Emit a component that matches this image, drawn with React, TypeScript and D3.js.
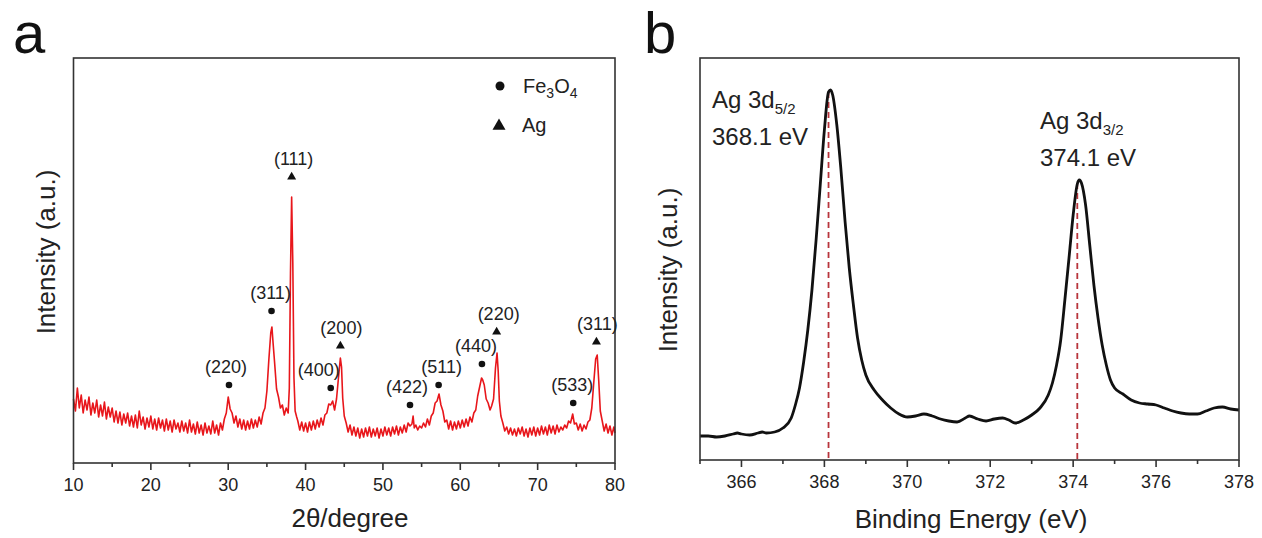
import React from "react";
import * as d3 from "d3";

// ---------- Panel a: XRD pattern ----------
const xrdPoints: [number, number][] = [
  [10.0, 64], [10.25, 52], [10.5, 75], [10.75, 55], [11.0, 68], [11.25, 50], [11.5, 63], [11.75, 53],
  [12.0, 66], [12.25, 48], [12.5, 60], [12.75, 50], [13.0, 63], [13.25, 46], [13.5, 58], [13.75, 47],
  [14.0, 61], [14.25, 44], [14.5, 56], [14.75, 46], [15.0, 55], [15.25, 41], [15.5, 52], [15.75, 40],
  [16.0, 51], [16.25, 38], [16.5, 49], [16.75, 40], [17.0, 50], [17.25, 37], [17.5, 47], [17.75, 36],
  [18.0, 48], [18.25, 35], [18.5, 52], [18.75, 38], [19.0, 46], [19.25, 34], [19.5, 45], [19.75, 36],
  [20.0, 47], [20.25, 34], [20.5, 44], [20.75, 33], [21.0, 45], [21.25, 35], [21.5, 43], [21.75, 32],
  [22.0, 44], [22.25, 33], [22.5, 42], [22.75, 31], [23.0, 43], [23.25, 34], [23.5, 40], [23.75, 31],
  [24.0, 42], [24.25, 32], [24.5, 40], [24.75, 30], [25.0, 43], [25.25, 31], [25.5, 39], [25.75, 29],
  [26.0, 41], [26.25, 30], [26.5, 38], [26.75, 28], [27.0, 40], [27.25, 30], [27.5, 37], [27.75, 29],
  [28.0, 42], [28.25, 30], [28.5, 38], [28.75, 28], [29.0, 40], [29.25, 33], [29.5, 44], [29.75, 50],
  [30.0, 66], [30.25, 54], [30.5, 50], [30.75, 40], [31.0, 47], [31.25, 36], [31.5, 44], [31.75, 34],
  [32.0, 43], [32.25, 33], [32.5, 42], [32.75, 34], [33.0, 44], [33.25, 35], [33.5, 43], [33.75, 36],
  [34.0, 46], [34.25, 39], [34.5, 50], [34.75, 55], [35.0, 72], [35.25, 103], [35.5, 130], [35.65, 136],
  [35.8, 120], [36.0, 100], [36.25, 74], [36.5, 66], [36.75, 55], [37.0, 58], [37.25, 48], [37.5, 55],
  [37.75, 50], [37.9, 75], [38.05, 190], [38.2, 266], [38.35, 200], [38.5, 85], [38.65, 52], [38.85, 46],
  [39.0, 42], [39.25, 33], [39.5, 41], [39.75, 32], [40.0, 40], [40.25, 31], [40.5, 41], [40.75, 33],
  [41.0, 42], [41.25, 34], [41.5, 43], [41.75, 36], [42.0, 45], [42.25, 38], [42.5, 48], [42.75, 50],
  [43.0, 59], [43.25, 58], [43.5, 62], [43.75, 53], [44.0, 64], [44.25, 85], [44.5, 105], [44.65, 96],
  [44.8, 65], [45.0, 47], [45.25, 40], [45.5, 31], [45.75, 38], [46.0, 28], [46.25, 36], [46.5, 27],
  [46.75, 35], [47.0, 25], [47.25, 34], [47.5, 26], [47.75, 35], [48.0, 27], [48.25, 36], [48.5, 26],
  [48.75, 34], [49.0, 27], [49.25, 35], [49.5, 25], [49.75, 34], [50.0, 27], [50.25, 36], [50.5, 28],
  [50.75, 35], [51.0, 27], [51.25, 36], [51.5, 29], [51.75, 37], [52.0, 28], [52.25, 36], [52.5, 30],
  [52.75, 38], [53.0, 31], [53.25, 40], [53.5, 37], [53.75, 39], [53.9, 47], [54.05, 35], [54.25, 38],
  [54.5, 33], [54.75, 37], [55.0, 35], [55.25, 40], [55.5, 36], [55.75, 44], [56.0, 38], [56.25, 47],
  [56.5, 50], [56.75, 60], [57.0, 62], [57.25, 69], [57.5, 58], [57.75, 52], [58.0, 41], [58.25, 43],
  [58.5, 34], [58.75, 42], [59.0, 33], [59.25, 41], [59.5, 34], [59.75, 42], [60.0, 35], [60.25, 43],
  [60.5, 36], [60.75, 44], [61.0, 37], [61.25, 46], [61.5, 41], [61.75, 50], [62.0, 53], [62.25, 67],
  [62.5, 76], [62.75, 85], [62.9, 83], [63.1, 78], [63.35, 64], [63.6, 60], [63.85, 53], [64.05, 57],
  [64.3, 64], [64.55, 95], [64.75, 110], [64.9, 92], [65.05, 62], [65.25, 47], [65.5, 40], [65.75, 32],
  [66.0, 36], [66.25, 29], [66.5, 35], [66.75, 28], [67.0, 34], [67.25, 27], [67.5, 35], [67.75, 29],
  [68.0, 36], [68.25, 27], [68.5, 34], [68.75, 26], [69.0, 35], [69.25, 28], [69.5, 36], [69.75, 27],
  [70.0, 35], [70.25, 28], [70.5, 37], [70.75, 29], [71.0, 36], [71.25, 28], [71.5, 38], [71.75, 30],
  [72.0, 37], [72.25, 29], [72.5, 38], [72.75, 31], [73.0, 36], [73.25, 33], [73.5, 38], [73.75, 35],
  [74.0, 42], [74.25, 40], [74.53, 49], [74.75, 39], [75.0, 40], [75.25, 33], [75.5, 39], [75.75, 32],
  [76.0, 38], [76.25, 34], [76.5, 41], [76.75, 43], [77.0, 55], [77.25, 80], [77.5, 104], [77.7, 108],
  [77.9, 82], [78.1, 52], [78.35, 42], [78.6, 32], [78.85, 39], [79.1, 30], [79.35, 37], [79.6, 28],
  [79.85, 36], [80.0, 30],
];

const xrdMajorTicks = [10, 20, 30, 40, 50, 60, 70, 80];
const xrdMinorTicks = [15, 25, 35, 45, 55, 65, 75];

// peak annotations
const peakTheta = [30.1, 35.6, 38.2, 43.25, 44.5, 53.5, 57.2, 62.8, 64.7, 74.6, 77.6];
const peakMarkerHeight = [78, 152, 286, 75, 117, 58, 78, 99, 131, 60, 121];
const peakLabel = ["(220)", "(311)", "(111)", "(400)", "(200)", "(422)", "(511)", "(440)", "(220)", "(533)", "(311)"];
const peakPhase = ["Fe3O4", "Fe3O4", "Ag", "Fe3O4", "Ag", "Fe3O4", "Fe3O4", "Fe3O4", "Ag", "Fe3O4", "Ag"];
const peakLabelDx = [-3, -1, 2, -12, 1, -3, 3, -6, 2, -1, 1];

// ---------- Panel b: XPS Ag 3d ----------
const xpsPoints: [number, number][] = [
  [365.0, 24], [365.2, 24], [365.4, 23], [365.6, 24], [365.8, 26], [365.9, 27], [366.0, 26], [366.2, 25],
  [366.4, 27], [366.5, 28], [366.6, 27], [366.8, 28], [367.0, 32], [367.2, 42], [367.3, 55], [367.4, 72],
  [367.5, 98], [367.6, 130], [367.7, 170], [367.8, 220], [367.9, 275], [368.0, 330], [368.1, 368],
  [368.15, 370], [368.2, 365], [368.3, 335], [368.4, 290], [368.5, 238], [368.6, 192], [368.7, 155],
  [368.8, 122], [368.9, 100], [369.0, 85], [369.2, 70], [369.4, 60], [369.6, 52], [369.8, 46],
  [370.0, 43], [370.2, 44], [370.4, 46], [370.6, 44], [370.8, 41], [371.0, 39], [371.2, 38], [371.4, 42],
  [371.5, 44], [371.7, 41], [371.9, 39], [372.1, 41], [372.3, 42], [372.45, 40], [372.6, 37], [372.8, 40],
  [373.0, 45], [373.2, 52], [373.4, 65], [373.5, 77], [373.6, 95], [373.7, 120], [373.8, 160], [373.9, 202],
  [374.0, 245], [374.1, 276], [374.15, 280], [374.2, 277], [374.3, 255], [374.4, 215], [374.5, 175],
  [374.6, 142], [374.7, 115], [374.8, 95], [374.9, 80], [375.0, 72], [375.2, 66], [375.4, 60], [375.6, 57],
  [375.8, 56], [376.0, 55], [376.2, 52], [376.4, 49], [376.6, 47], [376.8, 46], [377.0, 46], [377.2, 49],
  [377.4, 52], [377.6, 53], [377.8, 51], [378.0, 50],
];

const xpsMajorTicks = [366, 368, 370, 372, 374, 376, 378];
const xpsMinorTicks = [365, 367, 369, 371, 373, 375, 377];
const xpsPeakE = [368.1, 374.1];
const xpsPeakHeight = [368, 277];
const xpsPeakName = ["5/2", "3/2"];
const xpsPeakText = ["368.1 eV", "374.1 eV"];

const FONT = "'Liberation Sans', Arial, Helvetica, sans-serif";
const AXIS = "#333";

function Triangle({ x, y, size, fill }: { x: number; y: number; size: number; fill: string }) {
  const path = d3.symbol(d3.symbolTriangle, (Math.sqrt(3) / 4) * size * size)() as string;
  return <path d={path} transform={`translate(${x},${y})`} fill={fill} />;
}

export default function App() {
  // Panel a geometry
  const aL = 73.5, aR = 615, aT = 58, aB = 463;
  const xA = d3.scaleLinear().domain([10, 80]).range([aL, aR]);
  const yA = d3.scaleLinear().domain([0, 405]).range([aB, aT]);
  const lineA = d3.line<[number, number]>().x((d) => xA(d[0])).y((d) => yA(d[1]));

  // Panel b geometry
  const bL = 700, bR = 1239, bT = 58, bB = 460;
  const xB = d3.scaleLinear().domain([365, 378]).range([bL, bR]);
  const yB = d3.scaleLinear().domain([0, 402]).range([bB, bT]);
  const lineB = d3
    .line<[number, number]>()
    .x((d) => xB(d[0]))
    .y((d) => yB(d[1]))
    .curve(d3.curveMonotoneX);

  const xpsLabelPos = [
    { x: 712, y1: 108, y2: 145 },
    { x: 1040, y1: 129, y2: 166 },
  ];

  return (
    <svg
      width={1262}
      height={538}
      style={{ position: "absolute", left: 0, top: 0, background: "#fff" }}
      fontFamily={FONT}
    >
      <rect x={0} y={0} width={1262} height={538} fill="#fff" />

      {/* ---------------- Panel a ---------------- */}
      <text x={13} y={53} fontSize={58} fill="#111">a</text>
      <path d={lineA(xrdPoints) as string} fill="none" stroke="#e8161b" strokeWidth={1.6} strokeLinejoin="round" />
      <rect x={aL} y={aT} width={aR - aL} height={aB - aT} fill="none" stroke={AXIS} strokeWidth={1.6} />
      {xrdMajorTicks.map((t) => (
        <g key={`am${t}`}>
          <line x1={xA(t)} x2={xA(t)} y1={aB} y2={aB + 7} stroke={AXIS} strokeWidth={1.6} />
          <text x={xA(t)} y={aB + 28} fontSize={18} textAnchor="middle" fill="#222">{t}</text>
        </g>
      ))}
      {xrdMinorTicks.map((t) => (
        <line key={`an${t}`} x1={xA(t)} x2={xA(t)} y1={aB} y2={aB + 4} stroke={AXIS} strokeWidth={1.6} />
      ))}
      <text x={350} y={527} fontSize={26} textAnchor="middle" fill="#222">2θ/degree</text>
      <text
        transform={`translate(46,252) rotate(-90)`}
        fontSize={26}
        textAnchor="middle"
        dominantBaseline="central"
        fill="#222"
      >
        Intensity (a.u.)
      </text>

      {peakTheta.map((t, i) => {
        const px = xA(t);
        const py = yA(peakMarkerHeight[i]);
        return (
          <g key={`pk${i}`}>
            {peakPhase[i] === "Ag" ? (
              <Triangle x={px} y={py} size={9} fill="#111" />
            ) : (
              <circle cx={px} cy={py} r={3.3} fill="#111" />
            )}
            <text x={px + peakLabelDx[i]} y={py - 12} fontSize={18} textAnchor="middle" fill="#222">
              {peakLabel[i]}
            </text>
          </g>
        );
      })}

      {/* legend */}
      <circle cx={500} cy={86} r={4.5} fill="#111" />
      <text x={523} y={93} fontSize={20} fill="#222">
        Fe<tspan fontSize={14} dy={5}>3</tspan>
        <tspan dy={-5}>O</tspan>
        <tspan fontSize={14} dy={5}>4</tspan>
      </text>
      <Triangle x={499} y={126} size={13} fill="#111" />
      <text x={522} y={132} fontSize={20} fill="#222">Ag</text>

      {/* ---------------- Panel b ---------------- */}
      <text x={644} y={53} fontSize={58} fill="#111">b</text>
      {xpsPeakE.map((e, i) => (
        <line
          key={`dl${i}`}
          x1={xB(e)}
          x2={xB(e)}
          y1={yB(xpsPeakHeight[i])}
          y2={bB}
          stroke="#b8353c"
          strokeWidth={1.8}
          strokeDasharray="6,4"
        />
      ))}
      <path d={lineB(xpsPoints) as string} fill="none" stroke="#111" strokeWidth={2.8} strokeLinejoin="round" />
      <rect x={bL} y={bT} width={bR - bL} height={bB - bT} fill="none" stroke={AXIS} strokeWidth={1.6} />
      {xpsMajorTicks.map((t) => (
        <g key={`bm${t}`}>
          <line x1={xB(t)} x2={xB(t)} y1={bB} y2={bB + 7} stroke={AXIS} strokeWidth={1.6} />
          <text x={xB(t)} y={bB + 28} fontSize={18} textAnchor="middle" fill="#222">{t}</text>
        </g>
      ))}
      {xpsMinorTicks.map((t) => (
        <line key={`bn${t}`} x1={xB(t)} x2={xB(t)} y1={bB} y2={bB + 4} stroke={AXIS} strokeWidth={1.6} />
      ))}
      <text x={971} y={528} fontSize={26} textAnchor="middle" fill="#222">Binding Energy (eV)</text>
      <text
        transform={`translate(668,270) rotate(-90)`}
        fontSize={26}
        textAnchor="middle"
        dominantBaseline="central"
        fill="#222"
      >
        Intensity (a.u.)
      </text>

      {xpsPeakE.map((e, i) => (
        <g key={`pl${i}`}>
          <text x={xpsLabelPos[i].x} y={xpsLabelPos[i].y1} fontSize={24} fill="#222">
            Ag 3d<tspan fontSize={15} dy={6}>{xpsPeakName[i]}</tspan>
          </text>
          <text x={xpsLabelPos[i].x} y={xpsLabelPos[i].y2} fontSize={24} fill="#222">
            {xpsPeakText[i]}
          </text>
        </g>
      ))}
    </svg>
  );
}
